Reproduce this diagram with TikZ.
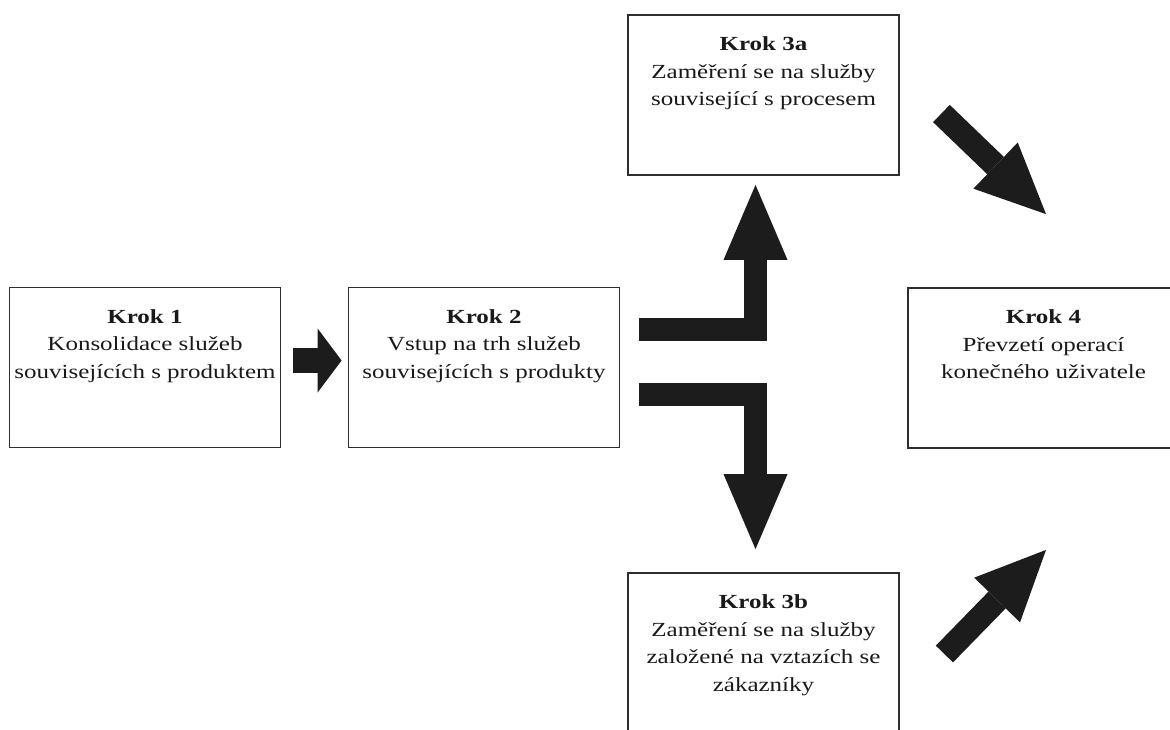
\documentclass[tikz,border=0pt]{standalone}
\usepackage{fontspec}
\setmainfont{Liberation Serif}[FakeStretch=1.25]
\usetikzlibrary{positioning,arrows.meta,calc}
\definecolor{boxline}{HTML}{2E2E2E}
\definecolor{arrowfill}{HTML}{1C1C1C}
\tikzset{
  stepbox/.style={draw=boxline, line width=0.9pt, minimum width=135.5pt, minimum height=80pt, inner sep=0pt},
  steptext/.style={anchor=north, align=center, inner sep=0pt, yshift=-11.2pt, text=black!90,
                   font=\fontsize{10pt}{13.75pt}\selectfont},
  bigarrow/.style={draw=arrowfill, line width=11.5pt, -{Triangle[width=32pt, length=37.5pt, line width=0pt]}},
  diagarrow/.style={draw=arrowfill, line width=12pt, -{Triangle[width=32pt, length=35pt, line width=0pt]}},
  smallarrow/.style={draw=arrowfill, line width=12.5pt, -{Triangle[width=32pt, length=12pt, line width=0pt]}},
}

\begin{document}
\begin{tikzpicture}[x=0.5pt, y=-0.5pt]
\useasboundingbox (0,0) rectangle (1170,729);
\clip (0,0) rectangle (1170,729);

%Boxes
\node[stepbox, label={[steptext]north:{\textbf{Krok 1}\\Konsolidace služeb\\souvisejících s produktem}}] (k1) at (145,367.5) {};
\node[stepbox, label={[steptext]north:{\textbf{Krok 2}\\Vstup na trh služeb\\souvisejících s produkty}}] (k2) at (484,367.5) {};
\node[stepbox, label={[steptext]north:{\textbf{Krok 3a}\\Zaměření se na služby\\související s procesem}}] (k3a) at (763.5,95) {};
\node[stepbox, label={[steptext]north:{\textbf{Krok 3b}\\Zaměření se na služby\\založené na vztazích se\\zákazníky}}] (k3b) at (763.5,653) {};
\node[stepbox, label={[steptext]north:{\textbf{Krok 4}\\Převzetí operací\\konečného uživatele}}] (k4) at (1043.5,368) {};

%Arrows
\draw[smallarrow] ($(k1.east)+(12,-7)$) -- ($(k2.west)+(-6,-7)$);
\draw[bigarrow] ($(k2.east)+(19,-38.5)$) -| ($(k3a.south)+(-8,9)$);
\draw[bigarrow] ($(k2.east)+(19,26.5)$) -| ($(k3b.north)+(-8,-23)$);
\draw[diagarrow] ($(k3a.east)+(41.5,18.5)$) -- ($(k4.north)+(2.5,-73)$);
\draw[diagarrow] ($(k3b.east)+(44.5,1)$) -- ($(k4.south)+(2.5,101)$);
\end{tikzpicture}
\end{document}
